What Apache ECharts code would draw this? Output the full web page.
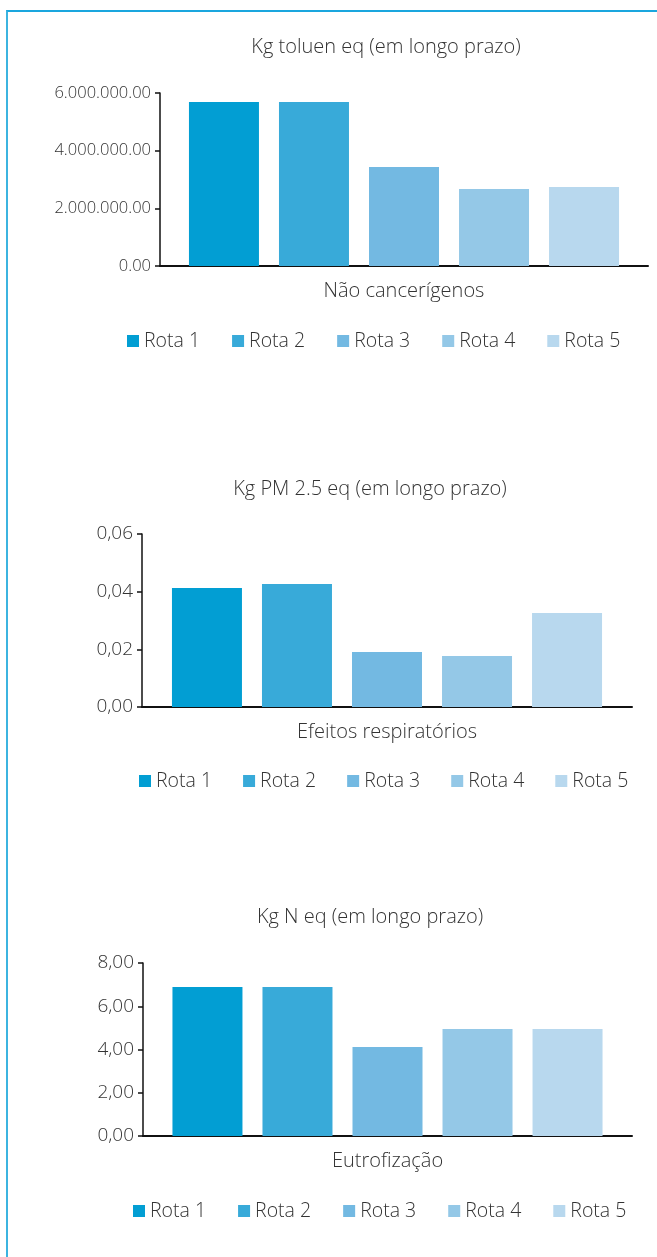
<!DOCTYPE html>
<html>
<head>
<meta charset="utf-8">
<script src="https://cdn.jsdelivr.net/npm/echarts@6/dist/echarts.min.js"></script>
<style>
  html, body { margin: 0; padding: 0; background: #fff; }
  #frame { position: absolute; left: 6px; top: 10px; width: 651px; height: 1247px;
           border-left: 2px solid #3cb4e0; border-top: 2px solid #1aa6de; box-sizing: border-box; }
  #chart { position: absolute; left: 0; top: 0; width: 657px; height: 1257px; }
</style>
</head>
<body>
<div id="frame"></div>
<div id="chart"></div>
<script>
// Series names and colours shared by all three panels
const routes = ['Rota 1', 'Rota 2', 'Rota 3', 'Rota 4', 'Rota 5'];
const routeColors = ['#029ed3', '#38aad9', '#73b9e2', '#94c8e7', '#b8d8ee'];

// Panel 1: non-carcinogenic toxicity
const title1 = 'Kg toluen eq (em longo prazo)';
const category1 = ['Não cancerígenos'];
const values1 = [5690000, 5690000, 3430000, 2670000, 2740000];

// Panel 2: respiratory effects
const title2 = 'Kg PM 2.5 eq (em longo prazo)';
const category2 = ['Efeitos respiratórios'];
const values2 = [0.0413, 0.0427, 0.0191, 0.0177, 0.0326];

// Panel 3: eutrophication
const title3 = 'Kg N eq (em longo prazo)';
const category3 = ['Eutrofização'];
const values3 = [6.89, 6.89, 4.12, 4.95, 4.95];

const FONT = 'Open Sans';
const TXT = '#333';

function fmtDots(v) {
  const s = v.toFixed(2).split('.');
  return s[0].replace(/\B(?=(\d{3})+(?!\d))/g, '.') + '.' + s[1];
}
function fmtComma(v) { return v.toFixed(2).replace('.', ','); }

const panels = [
  { title: title1, cat: category1, vals: values1, max: 6000000, interval: 2000000, fmt: fmtDots, tickSize: 16.5,
    grid: { left: 160, right: 9, top: 93, height: 173 }, titleTop: 37, titleX: 386,
    legendLeft: 127, legendGap: 32, legendTop: 331 },
  { title: title2, cat: category2, vals: values2, max: 0.06, interval: 0.02, fmt: fmtComma, tickSize: 19,
    grid: { left: 142, right: 25, top: 534, height: 173 }, titleTop: 479, titleX: 370,
    legendLeft: 139, legendGap: 31, legendTop: 771 },
  { title: title3, cat: category3, vals: values3, max: 8, interval: 2, fmt: fmtComma, tickSize: 19,
    grid: { left: 143, right: 25, top: 963, height: 173 }, titleTop: 907, titleX: 370,
    legendLeft: 133, legendGap: 32, legendTop: 1201 }
];

const option = {
  animation: false,
  textStyle: { fontFamily: FONT, fontWeight: 300 },
  title: panels.map(p => ({
    text: p.title, left: p.titleX, top: p.titleTop, textAlign: 'center', padding: 0,
    textStyle: { fontFamily: FONT, fontWeight: 300, fontSize: 20, color: TXT }
  })),
  legend: panels.map(p => ({
    data: routes, left: p.legendLeft, top: p.legendTop, icon: 'rect', padding: 0,
    itemWidth: 12, itemHeight: 12, itemGap: p.legendGap, selectedMode: false,
    textStyle: { fontFamily: FONT, fontWeight: 300, fontSize: 19.5, color: TXT }
  })),
  grid: panels.map(p => p.grid),
  xAxis: panels.map((p, i) => ({
    type: 'category', gridIndex: i, data: p.cat,
    axisLine: { lineStyle: { color: '#111', width: 2 } },
    axisTick: { show: false },
    axisLabel: { margin: 15, fontFamily: FONT, fontWeight: 300, fontSize: 20, color: TXT }
  })),
  yAxis: panels.map((p, i) => ({
    type: 'value', gridIndex: i, min: 0, max: p.max, interval: p.interval,
    splitLine: { show: false },
    axisLine: { show: true, lineStyle: { color: '#111', width: 1.5 } },
    axisTick: { show: true, length: 5, lineStyle: { color: '#111', width: 1.5 } },
    axisLabel: { margin: 9, formatter: p.fmt, fontFamily: FONT, fontWeight: 300, fontSize: p.tickSize, color: TXT }
  })),
  series: []
};

panels.forEach((p, i) => {
  routes.forEach((name, k) => {
    option.series.push({
      type: 'bar', name: name, xAxisIndex: i, yAxisIndex: i,
      data: [p.vals[k]], barWidth: 70, barGap: '28.6%',
      itemStyle: { color: routeColors[k] }
    });
  });
});

const chart = echarts.init(document.getElementById('chart'), null, { renderer: 'canvas' });
chart.setOption(option);
</script>
</body>
</html>
